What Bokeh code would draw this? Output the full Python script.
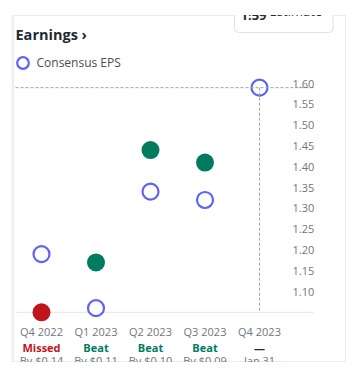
from bokeh.plotting import figure
from bokeh.models import (ColumnDataSource, Range1d, FixedTicker, LinearAxis, Label,
                          Legend, Segment, BoxAnnotation)
from bokeh.embed import file_html
from bokeh.resources import INLINE

# ---- data ----
quarters = ["Q4 2022", "Q1 2023", "Q2 2023", "Q3 2023", "Q4 2023"]
estimate_eps = [1.19, 1.06, 1.34, 1.32, 1.59]
actual_eps = [1.05, 1.17, 1.44, 1.41]
status = ["Missed", "Beat", "Beat", "Beat", "—"]
detail = ["By $0.14", "By $0.11", "By $0.10", "By $0.09", "Jan 31"]
y_ticks = [1.05, 1.10, 1.15, 1.20, 1.25, 1.30, 1.35, 1.40, 1.45, 1.50, 1.55, 1.60]
next_estimate_value = "1.59"
next_estimate_word = "Estimate"

RED = "#c0161b"
GREEN = "#007b5f"
BLUE = "#5c63f5"
DARK = "#232a31"
GRAY = "#6e7780"
LINE = "#e3e6ea"
DASH = "#9ea4aa"
FONT = "Open Sans"

status_colors = [RED if s == "Missed" else GREEN if s == "Beat" else DARK for s in status]
baseline = y_ticks[0]

# ---- layout (page pixels -> data coordinates) ----
W, H = 346, 362
PX_X0, PX_DX = 41.0, 54.5          # page x of first quarter, px per quarter
PX_Y0, PX_DY = 311.8, 416.0        # page y of baseline value, px per EPS unit
def xpos(px):
    return (px - PX_X0) / PX_DX
def ypos(py):
    return baseline + (PX_Y0 - py) / PX_DY

p = figure(width=W, height=H, output_backend="svg", toolbar_location=None,
           x_range=Range1d(xpos(0), xpos(W)), y_range=Range1d(ypos(H), ypos(0)),
           min_border_left=0, min_border_top=0, min_border_right=0, min_border_bottom=0,
           x_axis_location=None, y_axis_location=None)
p.outline_line_color = None
p.background_fill_color = "white"
p.border_fill_color = "white"

# card
for i, a in enumerate([0.03, 0.05, 0.08]):
    p.add_layout(BoxAnnotation(left=xpos(13 - 2 + i), right=xpos(345 + 2 - i),
                               top=ypos(15 - 2 + i), bottom=ypos(361 + 2 - i),
                               fill_alpha=0, line_color="black", line_alpha=a,
                               line_width=1, level="underlay"))
p.add_layout(BoxAnnotation(left=xpos(14), right=xpos(344), top=ypos(16), bottom=ypos(360),
                           fill_color="white", fill_alpha=1, line_alpha=0, level="underlay"))

# axes (labels drawn inside the card)
xaxis = LinearAxis(ticker=FixedTicker(ticks=list(range(len(quarters)))),
                   major_label_overrides={i: q for i, q in enumerate(quarters)})
xaxis.axis_line_color = None
xaxis.major_tick_line_color = None
xaxis.minor_tick_line_color = None
xaxis.major_tick_out = 0
xaxis.major_label_standoff = -39
xaxis.major_label_text_font = FONT
xaxis.major_label_text_font_size = "11px"
xaxis.major_label_text_color = GRAY
p.add_layout(xaxis, "below")

yaxis = LinearAxis(ticker=FixedTicker(ticks=y_ticks),
                   major_label_overrides={t: ("" if t == baseline else f"{t:.2f}") for t in y_ticks})
yaxis.axis_line_color = None
yaxis.major_tick_line_color = None
yaxis.minor_tick_line_color = None
yaxis.major_tick_out = 0
yaxis.major_label_standoff = -54
yaxis.major_label_text_font = FONT
yaxis.major_label_text_font_size = "11px"
yaxis.major_label_text_color = GRAY
p.add_layout(yaxis, "right")

p.xgrid.visible = False
p.ygrid.ticker = yaxis.ticker
p.ygrid.grid_line_color = LINE
p.ygrid.grid_line_width = 1
p.ygrid.cross_bounds = (xpos(15), xpos(287))

# baseline line
p.add_glyph(ColumnDataSource(dict(x0=[xpos(15)], y0=[baseline], x1=[xpos(313)], y1=[baseline])),
            Segment(x0="x0", y0="y0", x1="x1", y1="y1", line_color=LINE, line_width=1))

# points
act_src = ColumnDataSource(dict(x=list(range(len(actual_eps))), y=actual_eps,
                                c=status_colors[:len(actual_eps)]))
est_src = ColumnDataSource(dict(x=list(range(len(estimate_eps))), y=estimate_eps))

p.scatter("x", "y", source=act_src, size=18, fill_color="c", line_color="c", line_width=0)
est_r = p.scatter("x", "y", source=est_src, size=16, fill_color="white",
                  line_color=BLUE, line_width=2.2)

# crosshair at the next estimate
nx = len(estimate_eps) - 1
dash_src = ColumnDataSource(dict(x0=[xpos(15), nx], y0=[estimate_eps[nx], estimate_eps[nx]],
                                 x1=[xpos(313), nx], y1=[estimate_eps[nx], baseline]))
p.add_glyph(dash_src, Segment(x0="x0", y0="y0", x1="x1", y1="y1",
                              line_color=DASH, line_dash="3 2", line_width=1))

# legend
legend = Legend(items=[("Consensus EPS", [est_r])], location=(7.5, H - 78.5),
                padding=0, margin=0, border_line_color=None, background_fill_alpha=0,
                label_text_font=FONT, label_text_font_size="12px",
                label_text_color="#464e56", glyph_width=29, glyph_height=33,
                label_standoff=0)
p.add_layout(legend)

# title
p.add_layout(Label(x=xpos(15), y=ypos(34), text="Earnings ›", text_font=FONT,
                   text_font_size="14.5px", text_font_style="bold", text_color=DARK,
                   text_baseline="middle", text_align="left"))

# next-estimate box (partly scrolled out of view at the top)
p.add_layout(Label(x=xpos(234), y=ypos(32),
                   text=next_estimate_value + " " + next_estimate_word, text_font=FONT,
                   text_font_size="13px", text_color=DARK, text_align="left",
                   text_baseline="bottom",
                   padding=dict(left=6, right=11, top=10, bottom=13),
                   border_line_color="#dde1e6", border_line_width=1, border_radius=4,
                   background_fill_color="white"))
p.add_layout(Label(x=xpos(240), y=ypos(19), text=next_estimate_value, text_font=FONT,
                   text_font_size="13px", text_font_style="bold", text_color=DARK,
                   text_align="left", text_baseline="bottom"))
# page area above the card hides the scrolled-out part
p.add_layout(BoxAnnotation(left=xpos(0), right=xpos(W), top=ypos(0), bottom=ypos(14.5),
                           fill_color="white", fill_alpha=1, line_alpha=0, level="overlay"))

# status rows under the quarter labels
for i, (s, c, d) in enumerate(zip(status, status_colors, detail)):
    p.add_layout(Label(x=i, y=ypos(347), text=s, text_font=FONT,
                       text_font_size="11px", text_font_style="bold", text_color=c,
                       text_align="center", text_baseline="middle"))
    p.add_layout(Label(x=i, y=ypos(360), text=d, text_font=FONT,
                       text_font_size="11px", text_color=GRAY, text_align="center",
                       text_baseline="middle"))
p.add_layout(BoxAnnotation(left=xpos(0), right=xpos(W), top=ypos(361.5), bottom=ypos(H),
                           fill_color="white", fill_alpha=1, line_alpha=0, level="overlay"))

open("out.html", "w").write(file_html(p, INLINE))
